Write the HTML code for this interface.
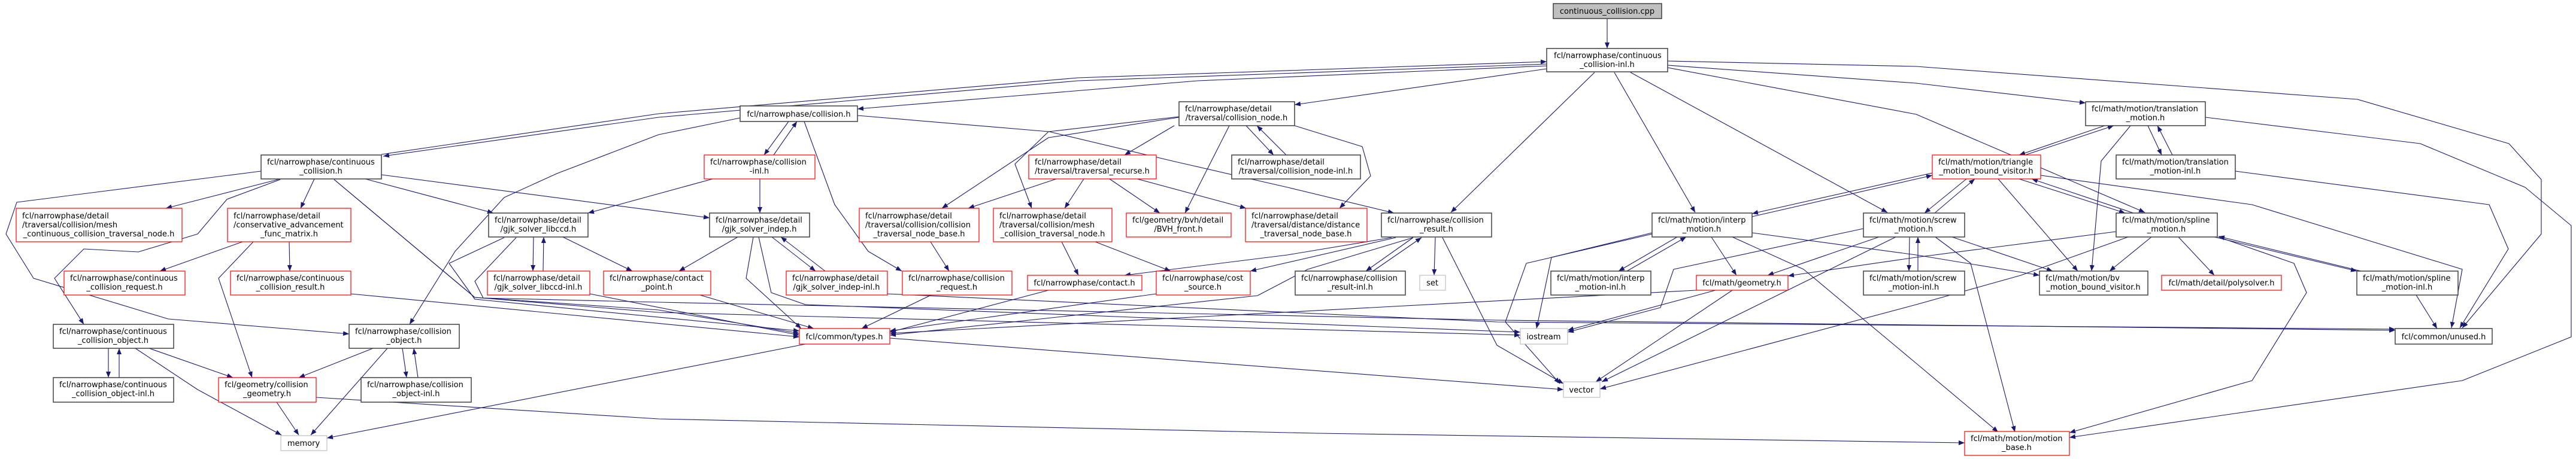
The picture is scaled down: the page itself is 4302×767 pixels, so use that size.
<!DOCTYPE html>
<html><head><meta charset="utf-8"><style>
html,body{margin:0;padding:0;background:#fff;}
svg{display:block;}
text{font-family:"DejaVu Sans","Liberation Sans",sans-serif;font-size:13px;fill:#000;}
.k{fill:#fff;stroke:#404040;stroke-width:1.5;}
.r{fill:#fff;stroke:#ff0000;stroke-width:1.2;}
.g{fill:#fff;stroke:#bfbfbf;stroke-width:1.2;}
.c{fill:#bfbfbf;stroke:#404040;stroke-width:1.5;}
polyline{fill:none;stroke:#191970;stroke-width:1.1;marker-end:url(#ah);stroke-linejoin:round;}
</style></head><body>
<svg width="4302" height="767" viewBox="0 0 4302 767" xmlns="http://www.w3.org/2000/svg">
<defs><marker id="ah" markerUnits="userSpaceOnUse" markerWidth="11" markerHeight="8" refX="10" refY="4" orient="auto"><path d="M0,0 L10,4 L0,8 z" fill="#191970"/></marker></defs>
<g>
<polyline points="2684,31 2684,81"/>
<polyline points="637,258 1100,190 1800,130 2583,103"/>
<polyline points="2583,107 1800,135 1100,196 640,261"/>
<polyline points="2583,110 2000,135 1432,182"/>
<polyline points="2583,115 2162,175"/>
<polyline points="2663,121 2423,355"/>
<polyline points="2696,121 2831,355"/>
<polyline points="2723,121 3152,355"/>
<polyline points="2785,109 3200,139 3483,172"/>
<polyline points="2785,113 3200,191 3582,355"/>
<polyline points="2785,102 3200,111 3937,166 4190,240 4244,300 4244,391 4112,548"/>
<polyline points="1236,197 1100,225 930,290 842,330 760,420 684,542"/>
<polyline points="468,299 277,348"/>
<polyline points="525,299 502,348"/>
<polyline points="468,300 379,333 330,391 231,421 140,416 91,465 140,542"/>
<polyline points="436,286 28,338 10,391 56,465 281,533 583,558"/>
<polyline points="610,299 824,356"/>
<polyline points="637,292 1185,364"/>
<polyline points="558,300 793,497 1100,518 1335,557"/>
<polyline points="558,300 793,497 1100,522 2539,560"/>
<polyline points="1486,565 2611,651"/>
<polyline points="1345,575 546,732"/>
<polyline points="528,664 1100,700 2200,724 3281,740"/>
<polyline points="405,404 267,453"/>
<polyline points="423,404 365,465 421,631"/>
<polyline points="483,404 484,453"/>
<polyline points="586,491 1335,563"/>
<polyline points="181,582 181,631"/>
<polyline points="199,631 199,582"/>
<polyline points="249,582 389,631"/>
<polyline points="226,582 330,651 470,727"/>
<polyline points="623,582 499,631"/>
<polyline points="647,582 519,727"/>
<polyline points="672,582 679,631"/>
<polyline points="698,631 691,582"/>
<polyline points="462,672 499,727"/>
<polyline points="891,396 890,453"/>
<polyline points="907,453 908,396"/>
<polyline points="940,396 1056,453"/>
<polyline points="842,397 750,440 793,500 1335,553"/>
<polyline points="862,397 793,470 807,498 1100,505 2500,535 4000,552"/>
<polyline points="985,491 1335,560"/>
<polyline points="1169,493 1359,549"/>
<polyline points="1317,203 1276,259"/>
<polyline points="1292,259 1331,203"/>
<polyline points="1343,203 1394,342 1450,420 1506,453"/>
<polyline points="1432,193 1752,220 1962,270 2150,313 2328,356"/>
<polyline points="1269,299 1269,356"/>
<polyline points="1190,299 982,356"/>
<polyline points="1232,396 1134,453"/>
<polyline points="1258,396 1246,465 1338,549"/>
<polyline points="1289,396 1362,453"/>
<polyline points="1378,453 1304,396"/>
<polyline points="1267,396 1288,489 1345,509 2539,555"/>
<polyline points="1482,491 2500,538 4000,550"/>
<polyline points="1555,493 1439,549"/>
<polyline points="1554,404 1585,453"/>
<polyline points="1764,299 1617,348"/>
<polyline points="1810,299 1778,348"/>
<polyline points="1853,299 1937,356"/>
<polyline points="1899,299 2081,348"/>
<polyline points="1961,210 1878,259"/>
<polyline points="1969,196 1751,230 1573,348"/>
<polyline points="1969,195 1751,220 1695,274 1723,348"/>
<polyline points="2053,210 1979,356"/>
<polyline points="2081,210 2127,259"/>
<polyline points="2148,259 2099,210"/>
<polyline points="2162,210 2275,245 2289,294 2237,348"/>
<polyline points="1773,404 1801,460"/>
<polyline points="1829,404 1955,453"/>
<polyline points="1751,485 1486,555"/>
<polyline points="1931,491 1486,553"/>
<polyline points="2324,397 2150,426 1878,460"/>
<polyline points="2331,397 2088,453"/>
<polyline points="2360,397 2184,450 2100,494 1486,560"/>
<polyline points="2360,397 2281,453"/>
<polyline points="2293,453 2374,397"/>
<polyline points="2397,397 2395,460"/>
<polyline points="2409,397 2500,577 2611,641"/>
<polyline points="2801,396 2703,453"/>
<polyline points="2717,453 2816,396"/>
<polyline points="2858,396 2900,460"/>
<polyline points="2759,389 2591,430 2566,549"/>
<polyline points="2759,391 2549,440 2514,538 2605,641"/>
<polyline points="2893,396 3012,450 3200,607 3337,722"/>
<polyline points="2926,389 3200,426 3406,460"/>
<polyline points="2865,485 2618,552"/>
<polyline points="2893,485 2665,638"/>
<polyline points="2833,485 1486,557"/>
<polyline points="3138,396 2952,460"/>
<polyline points="3112,382 2795,450 2773,514 2618,555"/>
<polyline points="3166,396 2675,638"/>
<polyline points="3189,396 3188,453"/>
<polyline points="3203,453 3203,396"/>
<polyline points="3260,396 3428,453"/>
<polyline points="3232,396 3291,440 3365,722"/>
<polyline points="3284,299 3214,356"/>
<polyline points="3231,356 3298,299"/>
<polyline points="3534,387 3200,430 2986,461"/>
<polyline points="3563,356 3393,299"/>
<polyline points="3372,299 3549,356"/>
<polyline points="3593,396 3523,453"/>
<polyline points="3638,396 3698,460"/>
<polyline points="3698,396 3936,453"/>
<polyline points="3943,453 3705,395"/>
<polyline points="3705,396 3831,440 3852,489 3761,636 3456,723"/>
<polyline points="3554,396 3375,460 3200,509 2672,650"/>
<polyline points="4035,493 4070,549"/>
<polyline points="3382,259 3530,210"/>
<polyline points="3515,210 3372,259"/>
<polyline points="3587,210 3610,259"/>
<polyline points="3628,259 3603,210"/>
<polyline points="3558,210 3509,269 3493,453"/>
<polyline points="3683,196 4042,240 4217,313 4294,377 4294,563 4112,636 3456,731"/>
<polyline points="3733,286 4157,342 4189,416 4108,548"/>
<polyline points="3408,293 3761,342 4112,450 4094,548"/>
<polyline points="3337,299 3470,453"/>
<polyline points="3227,289 2926,357"/>
<polyline points="2926,362 3227,293"/>
</g>
<g>
<rect class="k" x="436" y="259" width="201" height="40"/><text x="446" y="275">fcl/narrowphase/continuous</text><text x="536" y="290" text-anchor="middle">_collision.h</text>
<rect class="r" x="27" y="348" width="277" height="56"/><text x="37" y="365">fcl/narrowphase/detail</text><text x="37" y="380">/traversal/collision/mesh</text><text x="165" y="395" text-anchor="middle">_continuous_collision_traversal_node.h</text>
<rect class="r" x="380" y="348" width="206" height="56"/><text x="390" y="365">fcl/narrowphase/detail</text><text x="390" y="380">/conservative_advancement</text><text x="483" y="395" text-anchor="middle">_func_matrix.h</text>
<rect class="r" x="107" y="453" width="202" height="40"/><text x="117" y="469">fcl/narrowphase/continuous</text><text x="208" y="484" text-anchor="middle">_collision_request.h</text>
<rect class="r" x="385" y="453" width="201" height="40"/><text x="395" y="469">fcl/narrowphase/continuous</text><text x="485" y="484" text-anchor="middle">_collision_result.h</text>
<rect class="k" x="816" y="356" width="166" height="40"/><text x="826" y="372">fcl/narrowphase/detail</text><text x="899" y="387" text-anchor="middle">/gjk_solver_libccd.h</text>
<rect class="r" x="814" y="453" width="171" height="40"/><text x="824" y="469">fcl/narrowphase/detail</text><text x="899" y="484" text-anchor="middle">/gjk_solver_libccd-inl.h</text>
<rect class="r" x="1008" y="453" width="179" height="40"/><text x="1018" y="469">fcl/narrowphase/contact</text><text x="1097" y="484" text-anchor="middle">_point.h</text>
<rect class="k" x="89" y="542" width="201" height="40"/><text x="99" y="558">fcl/narrowphase/continuous</text><text x="189" y="573" text-anchor="middle">_collision_object.h</text>
<rect class="k" x="583" y="542" width="184" height="40"/><text x="593" y="558">fcl/narrowphase/collision</text><text x="675" y="573" text-anchor="middle">_object.h</text>
<rect class="k" x="89" y="631" width="201" height="41"/><text x="99" y="647">fcl/narrowphase/continuous</text><text x="189" y="662" text-anchor="middle">_collision_object-inl.h</text>
<rect class="r" x="365" y="631" width="163" height="41"/><text x="375" y="647">fcl/geometry/collision</text><text x="446" y="662" text-anchor="middle">_geometry.h</text>
<rect class="k" x="603" y="631" width="184" height="41"/><text x="613" y="647">fcl/narrowphase/collision</text><text x="695" y="662" text-anchor="middle">_object-inl.h</text>
<rect class="g" x="469" y="728" width="77" height="25"/><text x="507" y="745" text-anchor="middle">memory</text>
<rect class="k" x="1236" y="177" width="196" height="26"/><text x="1334" y="195" text-anchor="middle">fcl/narrowphase/collision.h</text>
<rect class="r" x="1176" y="259" width="185" height="40"/><text x="1186" y="275">fcl/narrowphase/collision</text><text x="1268" y="290" text-anchor="middle">-inl.h</text>
<rect class="k" x="1185" y="356" width="167" height="40"/><text x="1195" y="372">fcl/narrowphase/detail</text><text x="1268" y="387" text-anchor="middle">/gjk_solver_indep.h</text>
<rect class="r" x="1313" y="453" width="169" height="40"/><text x="1323" y="469">fcl/narrowphase/detail</text><text x="1397" y="484" text-anchor="middle">/gjk_solver_indep-inl.h</text>
<rect class="r" x="1507" y="453" width="183" height="40"/><text x="1517" y="469">fcl/narrowphase/collision</text><text x="1598" y="484" text-anchor="middle">_request.h</text>
<rect class="r" x="1335" y="549" width="151" height="26"/><text x="1410" y="567" text-anchor="middle">fcl/common/types.h</text>
<rect class="r" x="1435" y="348" width="200" height="56"/><text x="1445" y="365">fcl/narrowphase/detail</text><text x="1445" y="380">/traversal/collision/collision</text><text x="1535" y="395" text-anchor="middle">_traversal_node_base.h</text>
<rect class="r" x="1659" y="348" width="198" height="56"/><text x="1669" y="365">fcl/narrowphase/detail</text><text x="1669" y="380">/traversal/collision/mesh</text><text x="1758" y="395" text-anchor="middle">_collision_traversal_node.h</text>
<rect class="r" x="1718" y="259" width="213" height="40"/><text x="1728" y="275">fcl/narrowphase/detail</text><text x="1824" y="290" text-anchor="middle">/traversal/traversal_recurse.h</text>
<rect class="r" x="1881" y="356" width="175" height="40"/><text x="1891" y="372">fcl/geometry/bvh/detail</text><text x="1968" y="387" text-anchor="middle">/BVH_front.h</text>
<rect class="k" x="1969" y="170" width="193" height="40"/><text x="1979" y="186">fcl/narrowphase/detail</text><text x="2065" y="201" text-anchor="middle">/traversal/collision_node.h</text>
<rect class="k" x="2057" y="259" width="215" height="40"/><text x="2067" y="275">fcl/narrowphase/detail</text><text x="2164" y="290" text-anchor="middle">/traversal/collision_node-inl.h</text>
<rect class="r" x="2080" y="348" width="203" height="56"/><text x="2090" y="365">fcl/narrowphase/detail</text><text x="2090" y="380">/traversal/distance/distance</text><text x="2181" y="395" text-anchor="middle">_traversal_node_base.h</text>
<rect class="r" x="1716" y="460" width="191" height="25"/><text x="1811" y="477" text-anchor="middle">fcl/narrowphase/contact.h</text>
<rect class="r" x="1931" y="453" width="157" height="40"/><text x="1941" y="469">fcl/narrowphase/cost</text><text x="2009" y="484" text-anchor="middle">_source.h</text>
<rect class="c" x="2594" y="6" width="181" height="25"/><text x="2684" y="23" text-anchor="middle">continuous_collision.cpp</text>
<rect class="k" x="2583" y="81" width="202" height="39"/><text x="2595" y="97">fcl/narrowphase/continuous</text><text x="2684" y="112" text-anchor="middle">_collision-inl.h</text>
<rect class="k" x="2307" y="356" width="184" height="40"/><text x="2317" y="372">fcl/narrowphase/collision</text><text x="2399" y="387" text-anchor="middle">_result.h</text>
<rect class="k" x="2163" y="453" width="184" height="40"/><text x="2173" y="469">fcl/narrowphase/collision</text><text x="2255" y="484" text-anchor="middle">_result-inl.h</text>
<rect class="g" x="2371" y="460" width="43" height="25"/><text x="2392" y="477" text-anchor="middle">set</text>
<rect class="k" x="2759" y="356" width="167" height="40"/><text x="2769" y="372">fcl/math/motion/interp</text><text x="2842" y="387" text-anchor="middle">_motion.h</text>
<rect class="k" x="2590" y="453" width="167" height="40"/><text x="2600" y="469">fcl/math/motion/interp</text><text x="2673" y="484" text-anchor="middle">_motion-inl.h</text>
<rect class="r" x="2833" y="460" width="153" height="25"/><text x="2909" y="477" text-anchor="middle">fcl/math/geometry.h</text>
<rect class="g" x="2539" y="549" width="79" height="26"/><text x="2578" y="567" text-anchor="middle">iostream</text>
<rect class="g" x="2611" y="638" width="61" height="26"/><text x="2641" y="656" text-anchor="middle">vector</text>
<rect class="k" x="3112" y="356" width="169" height="40"/><text x="3122" y="372">fcl/math/motion/screw</text><text x="3196" y="387" text-anchor="middle">_motion.h</text>
<rect class="k" x="3112" y="453" width="169" height="40"/><text x="3122" y="469">fcl/math/motion/screw</text><text x="3196" y="484" text-anchor="middle">_motion-inl.h</text>
<rect class="k" x="3483" y="170" width="200" height="40"/><text x="3493" y="186">fcl/math/motion/translation</text><text x="3583" y="201" text-anchor="middle">_motion.h</text>
<rect class="k" x="3534" y="259" width="199" height="40"/><text x="3544" y="275">fcl/math/motion/translation</text><text x="3633" y="290" text-anchor="middle">_motion-inl.h</text>
<rect class="r" x="3227" y="259" width="181" height="40"/><text x="3237" y="275">fcl/math/motion/triangle</text><text x="3317" y="290" text-anchor="middle">_motion_bound_visitor.h</text>
<rect class="k" x="3534" y="356" width="169" height="40"/><text x="3544" y="372">fcl/math/motion/spline</text><text x="3618" y="387" text-anchor="middle">_motion.h</text>
<rect class="k" x="3406" y="453" width="181" height="40"/><text x="3416" y="469">fcl/math/motion/bv</text><text x="3496" y="484" text-anchor="middle">_motion_bound_visitor.h</text>
<rect class="r" x="3610" y="460" width="200" height="25"/><text x="3710" y="477" text-anchor="middle">fcl/math/detail/polysolver.h</text>
<rect class="k" x="3936" y="453" width="169" height="40"/><text x="3946" y="469">fcl/math/motion/spline</text><text x="4020" y="484" text-anchor="middle">_motion-inl.h</text>
<rect class="k" x="4000" y="549" width="162" height="26"/><text x="4081" y="567" text-anchor="middle">fcl/common/unused.h</text>
<rect class="r" x="3281" y="721" width="175" height="40"/><text x="3291" y="737">fcl/math/motion/motion</text><text x="3368" y="752" text-anchor="middle">_base.h</text>
</g>
</svg>
</body></html>
